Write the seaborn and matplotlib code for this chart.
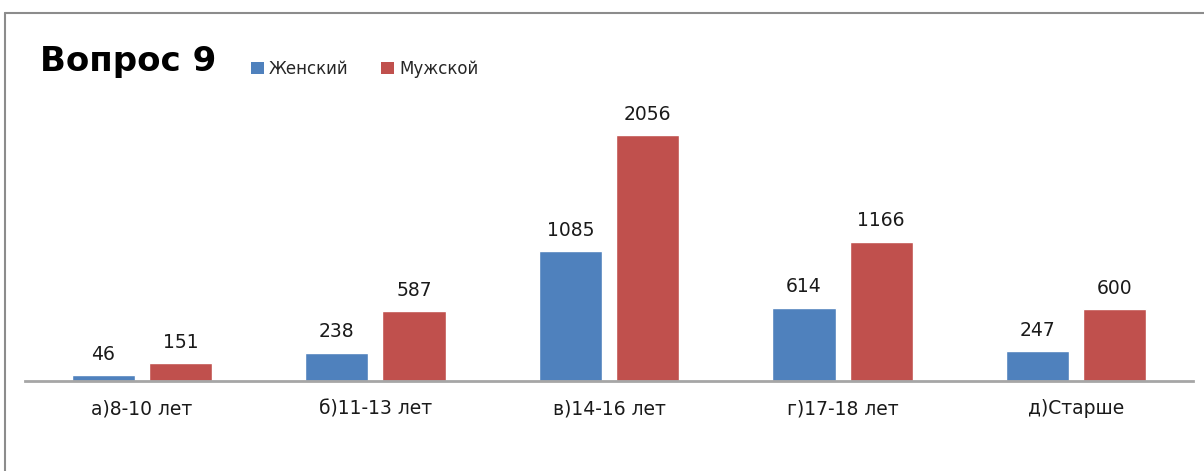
#!/usr/bin/env python3

import pandas as pd
import seaborn as sns
import matplotlib
matplotlib.use('Agg')
import matplotlib.pyplot as plt
from matplotlib.lines import Line2D
from matplotlib.patches import Patch

categories = ['а)8-10 лет', 'б)11-13 лет', 'в)14-16 лет', 'г)17-18 лет', 'д)Старше']
series_names = ['Женский', 'Мужской']
female = [46, 238, 1085, 614, 247]
male = [151, 587, 2056, 1166, 600]
palette = ['#4F81BD', '#C0504D']


def build_frame():
    rows = []
    for cat, f, m in zip(categories, female, male):
        rows.append({'cat': cat, 'sex': series_names[0], 'value': f})
        rows.append({'cat': cat, 'sex': series_names[1], 'value': m})
    return pd.DataFrame(rows)


sns.set_style('white')
plt.rcParams['font.family'] = ['DejaVu Sans']

df = build_frame()

fig = plt.figure(figsize=(12.04, 4.71), dpi=100)
ax = fig.add_axes([25 / 1204, 90 / 471, 1168 / 1204, 299 / 471])

sns.barplot(data=df, x='cat', y='value', hue='sex', order=categories,
            hue_order=series_names, palette=palette, width=0.66, gap=0.18,
            saturation=1, errorbar=None, legend=False, ax=ax)

for container in ax.containers:
    ax.bar_label(container, padding=8, fontsize=13.5, color='#1a1a1a')

ax.set_xlim(-0.5, len(categories) - 0.5)
ax.set_ylim(0, 2500)
ax.set_yticks([])
ax.set_xlabel('')
ax.set_ylabel('')
ax.tick_params(axis='x', length=0, pad=13, labelsize=13.5, labelcolor='#1a1a1a')
for side in ['top', 'right', 'left']:
    ax.spines[side].set_visible(False)
ax.spines['bottom'].set_color('#A6A6A6')
ax.spines['bottom'].set_linewidth(2)

# title and legend
fig.text(40 / 1204, 1 - 61 / 471, 'Вопрос 9', fontsize=24.5, fontweight='bold',
         va='center', ha='left', color='black')
handles = [Patch(facecolor=c, edgecolor='none') for c in palette]
fig.legend(handles, series_names, loc='center left',
           bbox_to_anchor=(236 / 1204, 1 - 69 / 471), ncol=2, frameon=False,
           fontsize=12, handlelength=0.75, handleheight=0.75, handletextpad=0.3,
           columnspacing=2.0)

# chart frame (only left and top edges visible)
fig.add_artist(Line2D([5 / 1204, 5 / 1204], [0, 1 - 13 / 471],
                      transform=fig.transFigure, color='#8C8C8C', lw=1.5))
fig.add_artist(Line2D([5 / 1204, 1], [1 - 13 / 471, 1 - 13 / 471],
                      transform=fig.transFigure, color='#8C8C8C', lw=1.5))

fig.savefig('out.png', dpi=100)
